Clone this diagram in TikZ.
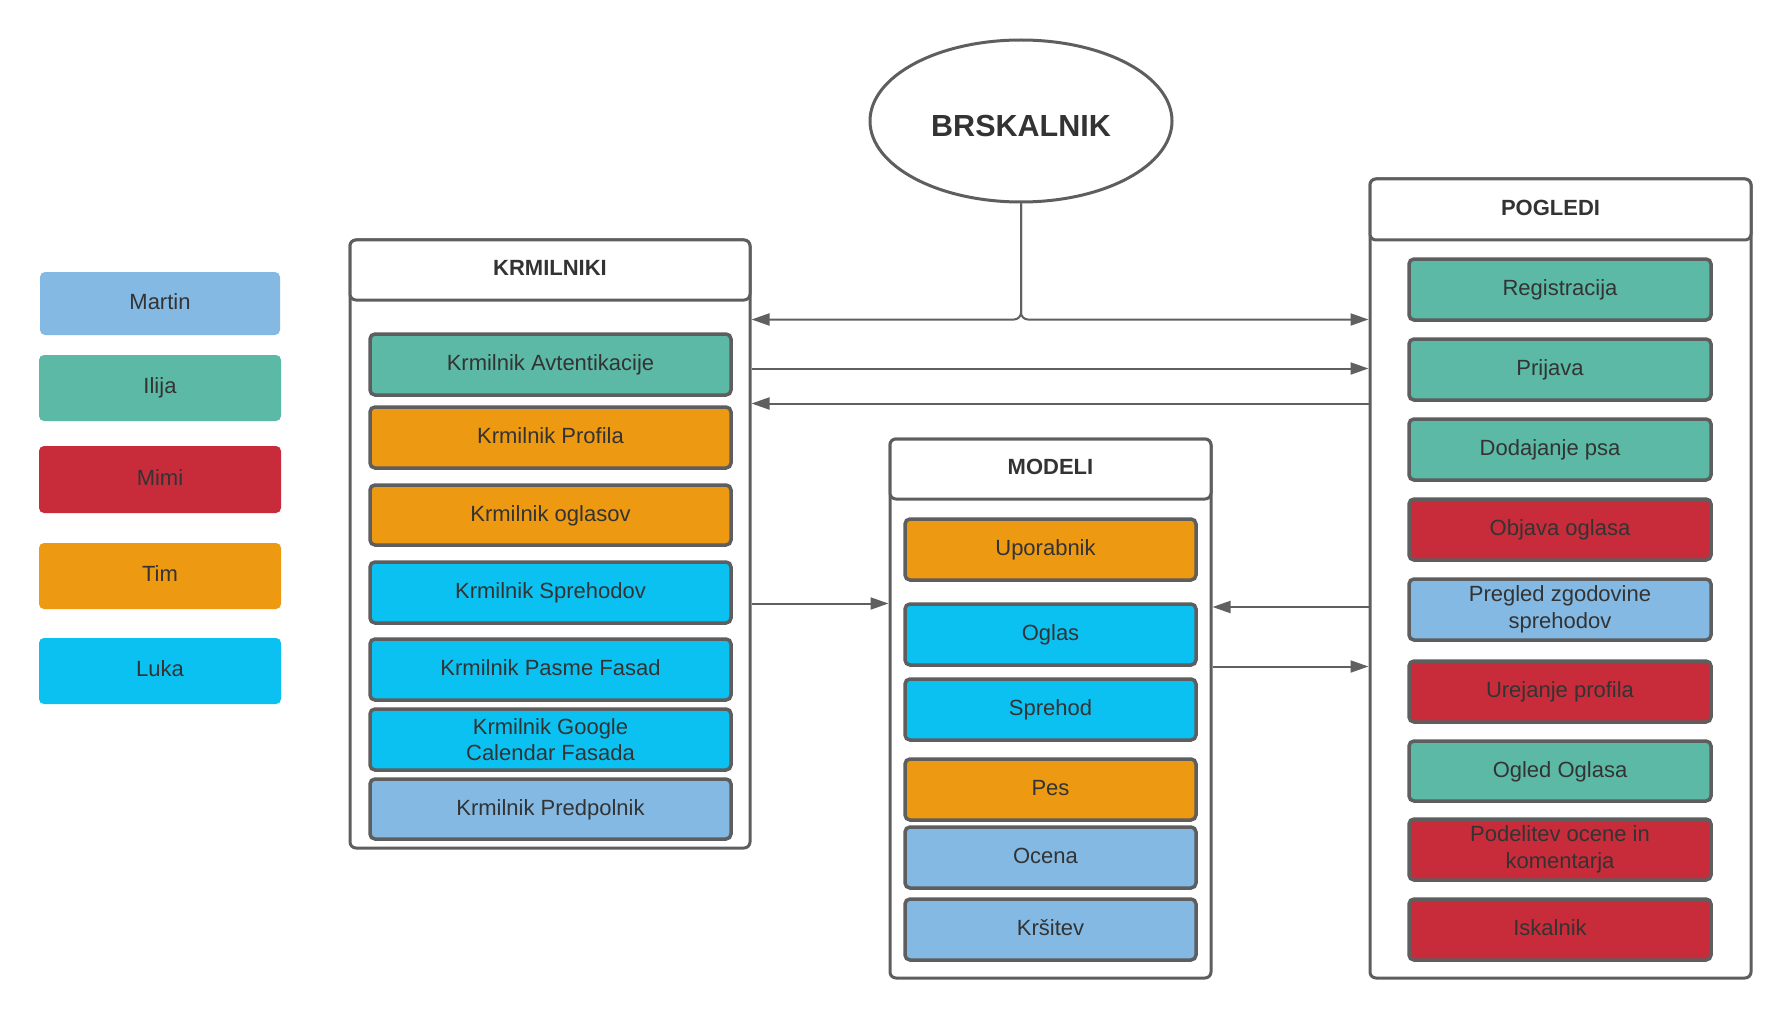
\documentclass[tikz,border=0pt]{standalone}
\usepackage{fontspec}
\setmainfont{Liberation Sans}
\usetikzlibrary{arrows.meta,shapes.geometric}
\definecolor{cblue}{HTML}{83B9E3}
\definecolor{cteal}{HTML}{5BB9A6}
\definecolor{cred}{HTML}{C82C3A}
\definecolor{corange}{HTML}{ED9912}
\definecolor{ccyan}{HTML}{0BC1F1}
\definecolor{bord}{HTML}{5E5E5E}
\definecolor{lineg}{HTML}{606060}
\definecolor{txt}{HTML}{333333}
\begin{document}
\begin{tikzpicture}[x=1pt,y=-1pt,
  legend/.style={rectangle, rounded corners=5pt, fill=#1, draw=none, text=txt,
    font=\fontsize{22}{26}\selectfont, inner sep=0pt, text height=16pt, text depth=5pt},
  item/.style={rectangle, rounded corners=5pt, fill=#1, draw=bord, line width=3.5pt,
    text=txt, font=\fontsize{22}{26.5}\selectfont, align=center, inner sep=0pt},
  oneline/.style={text height=16pt, text depth=3.5pt},
  container/.style={rectangle, rounded corners=6pt, draw=bord, line width=3pt, fill=white},
  header/.style={rectangle, rounded corners=6pt, draw=bord, line width=3pt, fill=white,
    text=txt, font=\fontsize{22}{26}\selectfont\bfseries, inner sep=0pt,
    text height=16pt, text depth=5pt},
  arr/.style={draw=lineg, line width=2pt, -{Triangle[length=18pt,width=12pt]}}
]
\useasboundingbox[fill=white] (0,0) rectangle (1791,1019);

% legend
\node[legend=cblue, minimum width=240pt, minimum height=63pt] (lm) at (160,303.5) {Martin};
\node[legend=cteal, minimum width=242pt, minimum height=66pt] (li) at (160,388) {Ilija};
\node[legend=cred, minimum width=242pt, minimum height=67pt] (lmi) at (160,479.5) {Mimi};
\node[legend=corange, minimum width=242pt, minimum height=66pt] (lt) at (160,576) {Tim};
\node[legend=ccyan, minimum width=242pt, minimum height=66pt] (ll) at (160,671) {Luka};

% BRSKALNIK
\node[ellipse, draw=bord, line width=3pt, fill=white, minimum width=302pt, minimum height=162pt,
  text=txt, font=\fontsize{30.5}{34}\selectfont\bfseries, inner sep=0pt,
  text height=31pt, text depth=0pt] (brs) at (1021,121) {BRSKALNIK};

% KRMILNIKI
\node[container, minimum width=400pt, minimum height=608pt] (krm) at (550,544) {};
\node[header, minimum width=400pt, minimum height=60pt] (krmh) at (550,270) {KRMILNIKI};
\node[item=cteal, oneline, minimum width=361pt, minimum height=61pt] (k1) at (550.5,364.5) {Krmilnik Avtentikacije};
\node[item=corange, oneline, minimum width=361pt, minimum height=61pt] (k2) at (550.5,437.5) {Krmilnik Profila};
\node[item=corange, oneline, minimum width=361pt, minimum height=60pt] (k3) at (550.5,515) {Krmilnik oglasov};
\node[item=ccyan, oneline, minimum width=361pt, minimum height=61pt] (k4) at (550.5,592.5) {Krmilnik Sprehodov};
\node[item=ccyan, oneline, minimum width=361pt, minimum height=61pt] (k5) at (550.5,669.5) {Krmilnik Pasme Fasad};
\node[item=ccyan, minimum width=361pt, minimum height=61pt] (k6) at (550.5,739.5) {Krmilnik Google\\Calendar Fasada};
\node[item=cblue, oneline, minimum width=361pt, minimum height=60pt] (k7) at (550.5,809) {Krmilnik Predpolnik};

% MODELI
\node[container, minimum width=321pt, minimum height=539pt] (mod) at (1050.5,708.5) {};
\node[header, minimum width=321pt, minimum height=60pt] (modh) at (1050.5,469) {MODELI};
\node[item=corange, oneline, minimum width=291pt, minimum height=61pt] (m1) at (1050.5,549.5) {\hspace*{-10pt}Uporabnik};
\node[item=ccyan, oneline, minimum width=291pt, minimum height=61pt] (m2) at (1050.5,634.5) {Oglas};
\node[item=ccyan, oneline, minimum width=291pt, minimum height=61pt] (m3) at (1050.5,709.5) {Sprehod};
\node[item=corange, oneline, minimum width=291pt, minimum height=61pt] (m4) at (1050.5,789.5) {Pes};
\node[item=cblue, oneline, minimum width=291pt, minimum height=61pt] (m5) at (1050.5,857.5) {\hspace*{-10pt}Ocena};
\node[item=cblue, oneline, minimum width=291pt, minimum height=61pt] (m6) at (1050.5,929.5) {Kršitev};

% POGLEDI
\node[container, minimum width=381pt, minimum height=799pt] (pog) at (1560.5,578.5) {};
\node[header, minimum width=381pt, minimum height=61pt] (pogh) at (1560.5,209.5) {\hspace*{-20pt}POGLEDI};
\node[item=cteal, oneline, minimum width=302pt, minimum height=61pt] (p1) at (1560,289.5) {Registracija};
\node[item=cteal, oneline, minimum width=302pt, minimum height=61pt] (p2) at (1560,369.5) {\hspace*{-20pt}Prijava};
\node[item=cteal, oneline, minimum width=302pt, minimum height=61pt] (p3) at (1560,449.5) {\hspace*{-20pt}Dodajanje psa};
\node[item=cred, oneline, minimum width=302pt, minimum height=61pt] (p4) at (1560,529.5) {Objava oglasa};
\node[item=cblue, minimum width=302pt, minimum height=61pt] (p5) at (1560,609.5) {Pregled zgodovine\\sprehodov};
\node[item=cred, oneline, minimum width=302pt, minimum height=61pt] (p6) at (1560,691.5) {Urejanje profila};
\node[item=cteal, oneline, minimum width=302pt, minimum height=60pt] (p7) at (1560,771) {Ogled Oglasa};
\node[item=cred, minimum width=302pt, minimum height=61pt] (p8) at (1560,849.5) {Podelitev ocene in\\komentarja};
\node[item=cred, oneline, minimum width=302pt, minimum height=61pt] (p9) at (1560,929.5) {\hspace*{-20pt}Iskalnik};

% connectors
\draw[arr, rounded corners=7pt] (brs.south) |- (krm.east |- 0,319.5);
\draw[arr, rounded corners=7pt] (brs.south) |- (pog.west |- 0,319.5);
\draw[arr] (krm.east |- 0,368.5) -- (pog.west |- 0,368.5);
\draw[arr] (pog.west |- 0,403.5) -- (krm.east |- 0,403.5);
\draw[arr] (krm.east |- 0,603.5) -- (mod.west |- 0,603.5);
\draw[arr] (pog.west |- 0,607) -- (mod.east |- 0,607);
\draw[arr] (mod.east |- 0,666.5) -- (pog.west |- 0,666.5);
\end{tikzpicture}
\end{document}
